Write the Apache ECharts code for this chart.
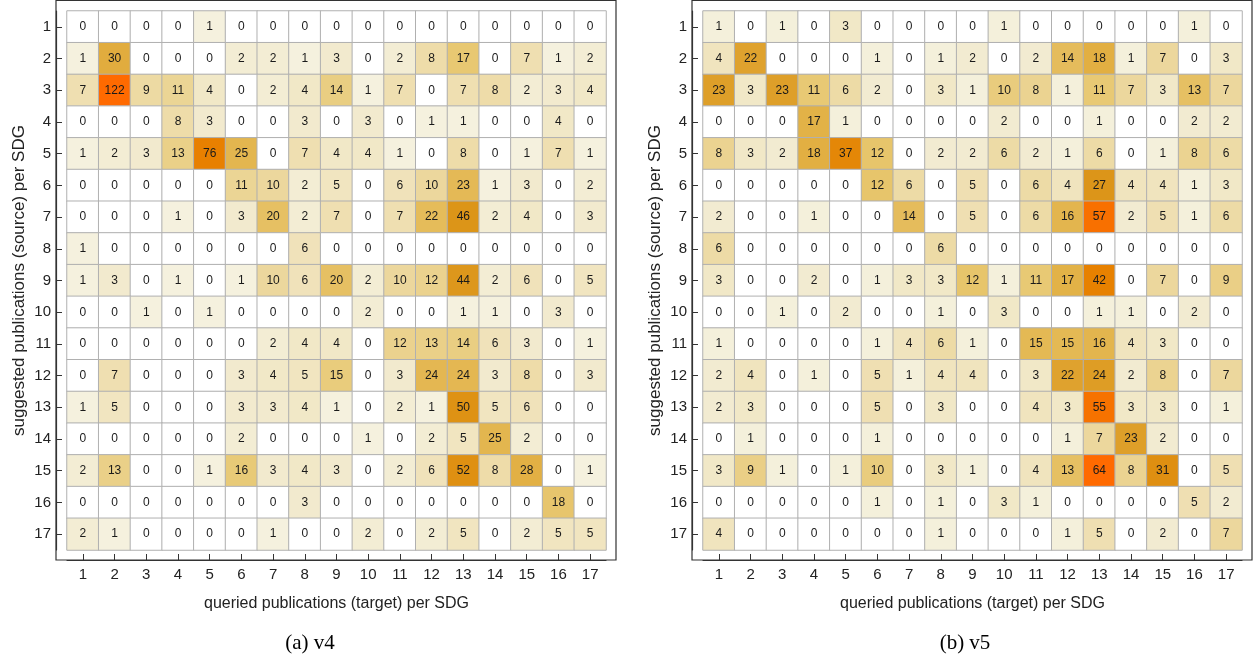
<!DOCTYPE html>
<html>
<head>
<meta charset="utf-8">
<script src="https://cdn.jsdelivr.net/npm/echarts@6/dist/echarts.min.js"></script>
<style>
html,body{margin:0;padding:0;background:#fff;}
#chart{width:1254px;height:657px;}
</style>
</head>
<body>
<div id="chart"></div>
<script>
const categories = ['1','2','3','4','5','6','7','8','9','10','11','12','13','14','15','16','17'];

// rows = suggested (source) SDG 1..17, columns = queried (target) SDG 1..17
const v4Matrix = [
  [0,0,0,0,1,0,0,0,0,0,0,0,0,0,0,0,0],
  [1,30,0,0,0,2,2,1,3,0,2,8,17,0,7,1,2],
  [7,122,9,11,4,0,2,4,14,1,7,0,7,8,2,3,4],
  [0,0,0,8,3,0,0,3,0,3,0,1,1,0,0,4,0],
  [1,2,3,13,76,25,0,7,4,4,1,0,8,0,1,7,1],
  [0,0,0,0,0,11,10,2,5,0,6,10,23,1,3,0,2],
  [0,0,0,1,0,3,20,2,7,0,7,22,46,2,4,0,3],
  [1,0,0,0,0,0,0,6,0,0,0,0,0,0,0,0,0],
  [1,3,0,1,0,1,10,6,20,2,10,12,44,2,6,0,5],
  [0,0,1,0,1,0,0,0,0,2,0,0,1,1,0,3,0],
  [0,0,0,0,0,0,2,4,4,0,12,13,14,6,3,0,1],
  [0,7,0,0,0,3,4,5,15,0,3,24,24,3,8,0,3],
  [1,5,0,0,0,3,3,4,1,0,2,1,50,5,6,0,0],
  [0,0,0,0,0,2,0,0,0,1,0,2,5,25,2,0,0],
  [2,13,0,0,1,16,3,4,3,0,2,6,52,8,28,0,1],
  [0,0,0,0,0,0,0,3,0,0,0,0,0,0,0,18,0],
  [2,1,0,0,0,0,1,0,0,2,0,2,5,0,2,5,5]
];

const v5Matrix = [
  [1,0,1,0,3,0,0,0,0,1,0,0,0,0,0,1,0],
  [4,22,0,0,0,1,0,1,2,0,2,14,18,1,7,0,3],
  [23,3,23,11,6,2,0,3,1,10,8,1,11,7,3,13,7],
  [0,0,0,17,1,0,0,0,0,2,0,0,1,0,0,2,2],
  [8,3,2,18,37,12,0,2,2,6,2,1,6,0,1,8,6],
  [0,0,0,0,0,12,6,0,5,0,6,4,27,4,4,1,3],
  [2,0,0,1,0,0,14,0,5,0,6,16,57,2,5,1,6],
  [6,0,0,0,0,0,0,6,0,0,0,0,0,0,0,0,0],
  [3,0,0,2,0,1,3,3,12,1,11,17,42,0,7,0,9],
  [0,0,1,0,2,0,0,1,0,3,0,0,1,1,0,2,0],
  [1,0,0,0,0,1,4,6,1,0,15,15,16,4,3,0,0],
  [2,4,0,1,0,5,1,4,4,0,3,22,24,2,8,0,7],
  [2,3,0,0,0,5,0,3,0,0,4,3,55,3,3,0,1],
  [0,1,0,0,0,1,0,0,0,0,0,1,7,23,2,0,0],
  [3,9,1,0,1,10,0,3,1,0,4,13,64,8,31,0,5],
  [0,0,0,0,0,1,0,1,0,3,1,0,0,0,0,5,2],
  [4,0,0,0,0,0,0,1,0,0,0,1,5,0,2,0,7]
];

const panelCaptions = ['(a) v4', '(b) v5'];
const xTitle = 'queried publications (target) per SDG';
const yTitle = 'suggested publications (source) per SDG';

// [xIndex, yIndex, log-scaled intensity, raw count]
function toCells(matrix) {
  const max = Math.max(...matrix.flat());
  const L = Math.log1p(max);
  const out = [];
  matrix.forEach((row, r) => row.forEach((v, c) => out.push([c, r, Math.log1p(v) / L, v])));
  return out;
}

const palette = ['#ffffff','#f6f3e4','#f3eed7','#f2eacd','#f0e3bb','#ecd79c','#e8c872','#e2b044','#dc9518','#e78100','#ff6a00'];
const sans = '"Liberation Sans", Arial, sans-serif';
const frameColor = '#333';

const chart = echarts.init(document.getElementById('chart'), null, {renderer: 'canvas'});

const heatGrids = [
  {left: 67, top: 11, width: 539, height: 539},
  {left: 703, top: 11, width: 539, height: 539}
];
const frameGrids = [
  {left: 56, top: 0.5, width: 560, height: 559.5, show: true, borderColor: frameColor, borderWidth: 1.2, backgroundColor: 'transparent'},
  {left: 692, top: 0.5, width: 560, height: 559.5, show: true, borderColor: frameColor, borderWidth: 1.2, backgroundColor: 'transparent'}
];

function catX(gi) {
  return {
    type: 'category', gridIndex: gi, data: categories, offset: 10,
    axisLine: {show: true, lineStyle: {color: frameColor, width: 1.2}},
    axisTick: {show: true, inside: true, alignWithLabel: true, length: 6, lineStyle: {color: frameColor, width: 1}},
    axisLabel: {fontSize: 15, color: '#222', margin: 7, fontFamily: sans},
    splitLine: {show: false},
    name: xTitle, nameLocation: 'middle', nameGap: 36,
    nameTextStyle: {fontSize: 16, color: '#222', fontFamily: sans}
  };
}
function catY(gi) {
  return {
    type: 'category', gridIndex: gi, data: categories, inverse: true, offset: 11,
    axisLine: {show: true, lineStyle: {color: frameColor, width: 1.2}},
    axisTick: {show: true, inside: true, alignWithLabel: true, length: 6, lineStyle: {color: frameColor, width: 1}},
    axisLabel: {fontSize: 15, color: '#222', margin: 5, fontFamily: sans},
    splitLine: {show: false},
    name: yTitle, nameLocation: 'middle', nameGap: 28,
    nameTextStyle: {fontSize: 17, color: '#222', fontFamily: sans}
  };
}

function heatSeries(matrix, gi) {
  return {
    type: 'heatmap', xAxisIndex: gi, yAxisIndex: gi,
    data: toCells(matrix),
    label: {show: true, formatter: p => String(p.value[3]), fontSize: 12, color: '#1a1a1a', fontFamily: sans},
    itemStyle: {borderColor: '#b0b0b0', borderWidth: 1},
    emphasis: {disabled: true}
  };
}

chart.setOption({
  animation: false,
  backgroundColor: '#ffffff',
  grid: [heatGrids[0], heatGrids[1], frameGrids[0], frameGrids[1]],
  xAxis: [catX(0), catX(1), {type: 'value', gridIndex: 2, show: false}, {type: 'value', gridIndex: 3, show: false}],
  yAxis: [catY(0), catY(1), {type: 'value', gridIndex: 2, show: false}, {type: 'value', gridIndex: 3, show: false}],
  visualMap: [
    {type: 'continuous', seriesIndex: 0, dimension: 2, min: 0, max: 1, show: false, inRange: {color: palette}},
    {type: 'continuous', seriesIndex: 1, dimension: 2, min: 0, max: 1, show: false, inRange: {color: palette}}
  ],
  series: [heatSeries(v4Matrix, 0), heatSeries(v5Matrix, 1)],
  graphic: [
    {type: 'text', x: 310, y: 643, style: {text: panelCaptions[0], font: '21px "Liberation Serif", "Times New Roman", serif', fill: '#000', textAlign: 'center', textVerticalAlign: 'middle'}},
    {type: 'text', x: 965, y: 643, style: {text: panelCaptions[1], font: '21px "Liberation Serif", "Times New Roman", serif', fill: '#000', textAlign: 'center', textVerticalAlign: 'middle'}}
  ]
});
</script>
</body>
</html>
